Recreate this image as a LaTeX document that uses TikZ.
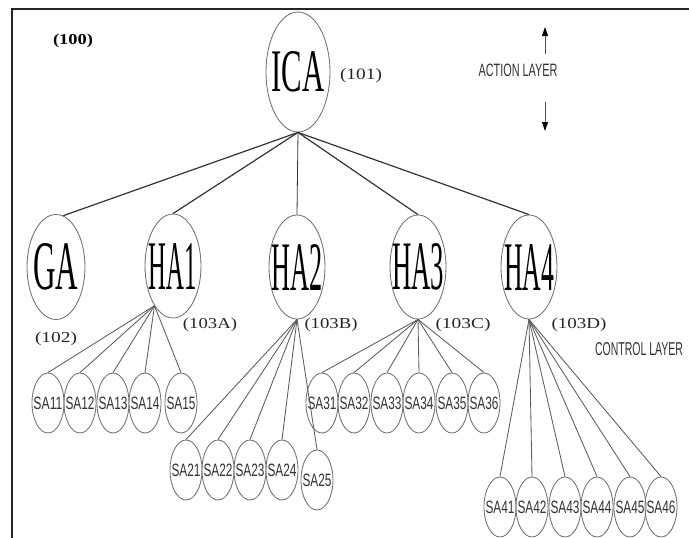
\documentclass[tikz,border=0pt]{standalone}
\usepackage{fontspec}
\setmainfont{Liberation Serif}
\setsansfont{Liberation Sans}
\usepackage{graphicx}
\usetikzlibrary{shapes.geometric,arrows.meta}
\newcommand{\fb}[3]{\makebox[0pt]{\resizebox{#1}{#2}{#3}}}
\newcommand{\sa}[1]{\fb{29pt}{12.5pt}{\sffamily #1}}
\definecolor{ellc}{HTML}{707070}
\definecolor{linec}{HTML}{333333}
\definecolor{satxt}{HTML}{333333}
\tikzset{
  ell/.style={ellipse, draw=ellc, line width=0.85pt, inner sep=0pt},
  topell/.style={ell, minimum width=64pt, minimum height=120pt},
  haell/.style={ell, minimum width=56pt, minimum height=104pt},
  saell/.style={ell, minimum width=32pt, minimum height=60pt, text=satxt},
  tag/.style={anchor=base, inner sep=0pt, text=black!85},
  sftag/.style={anchor=base, inner sep=0pt, text=satxt, font=\sffamily},
  main/.style={draw=linec, line width=1.2pt},
  sub/.style={draw=linec!80, line width=0.85pt},
  layerarrow/.style={draw=black!70, line width=0.9pt, -{Triangle[length=9pt,width=6pt,fill=black,color=black]}},
}
\begin{document}
\begin{tikzpicture}[x=1pt,y=-1pt]
\useasboundingbox (0,0) rectangle (689,538);
% frame
\coordinate (fbl) at (12,538);
\coordinate (ftl) at (12,9);
\coordinate (ftr) at (689,9);
\draw[line width=1.2pt, black!85] (fbl) -- (ftl) -- (ftr);

% top node
\node[topell] (ICA) at (298,72) {\fb{53pt}{40pt}{ICA}};
% second level
\node[haell, minimum width=58pt, minimum height=105pt] (GA) at (56,267) {\fb{45pt}{46pt}{GA}};
\node[haell] (HA1) at (173,266) {\fb{48pt}{46pt}{HA1}};
\node[haell] (HA2) at (297,267) {\fb{51pt}{46pt}{HA2}};
\node[haell] (HA3) at (418,267) {\fb{52pt}{46pt}{HA3}};
\node[haell] (HA4) at (529,267) {\fb{50pt}{46pt}{HA4}};

% SA1x
\node[saell] (SA11) at (48,403) {\sa{SA11}};
\node[saell] (SA12) at (80,403) {\sa{SA12}};
\node[saell] (SA13) at (113,403) {\sa{SA13}};
\node[saell] (SA14) at (145,403) {\sa{SA14}};
\node[saell] (SA15) at (181,403) {\sa{SA15}};
% SA2x
\node[saell] (SA21) at (186,470) {\sa{SA21}};
\node[saell] (SA22) at (218,470) {\sa{SA22}};
\node[saell] (SA23) at (250,470) {\sa{SA23}};
\node[saell] (SA24) at (282,470) {\sa{SA24}};
\node[saell] (SA25) at (317,480) {\sa{SA25}};
% SA3x
\node[saell] (SA31) at (322,403) {\sa{SA31}};
\node[saell] (SA32) at (354,403) {\sa{SA32}};
\node[saell] (SA33) at (387,403) {\sa{SA33}};
\node[saell] (SA34) at (419,403) {\sa{SA34}};
\node[saell] (SA35) at (452,403) {\sa{SA35}};
\node[saell] (SA36) at (484,403) {\sa{SA36}};
% SA4x
\node[saell] (SA41) at (500,507) {\sa{SA41}};
\node[saell] (SA42) at (532,507) {\sa{SA42}};
\node[saell] (SA43) at (565,507) {\sa{SA43}};
\node[saell] (SA44) at (597,507) {\sa{SA44}};
\node[saell] (SA45) at (630,507) {\sa{SA45}};
\node[saell] (SA46) at (661,507) {\sa{SA46}};

% connectors top
\draw[main] (ICA.south) -- (GA.82);
\draw[main] (ICA.south) -- (HA1.north);
\draw[main, line width=0.8pt] (ICA.south) -- (HA2.north);
\draw[main] (ICA.south) -- (HA3.north);
\draw[main] (ICA.south) -- (HA4.north);

% connectors to sub agents
\foreach \s in {SA11,SA12,SA13,SA14,SA15}
  \draw[sub] (HA1.245) -- (\s.north);
\foreach \s in {SA21,SA22,SA23,SA24,SA25}
  \draw[sub] (HA2.south) -- (\s.north);
\foreach \s in {SA31,SA32,SA33,SA34,SA35,SA36}
  \draw[sub] (HA3.south) -- (\s.north);
\foreach \s in {SA41,SA42,SA43,SA44,SA45,SA46}
  \draw[sub] (HA4.south) -- (\s.north);

% labels
\node[tag, text=black] (l100) at (73,44) {\resizebox{40pt}{10.5pt}{\bfseries (100)}};
\node[tag] (l101) at (361,79) {\resizebox{42pt}{11pt}{(101)}};
\node[tag] (l102) at (56,342) {\resizebox{42pt}{10.5pt}{(102)}};
\node[tag] (l103A) at (210,328) {\resizebox{54pt}{10.5pt}{(103A)}};
\node[tag] (l103B) at (331,328) {\resizebox{53pt}{10.5pt}{(103B)}};
\node[tag] (l103C) at (463,328) {\resizebox{55pt}{10.5pt}{(103C)}};
\node[tag] (l103D) at (579,328) {\resizebox{55pt}{10.5pt}{(103D)}};

\node[sftag] (act) at (518,76) {\resizebox{79pt}{12.5pt}{ACTION LAYER}};
\node[sftag] (ctl) at (639,355) {\resizebox{88pt}{13pt}{CONTROL LAYER}};

% action layer arrows
\coordinate (up0) at (545,54);
\coordinate (up1) at (545,27);
\coordinate (dn0) at (545,102);
\coordinate (dn1) at (545,131);
\draw[layerarrow] (up0) -- (up1);
\draw[layerarrow] (dn0) -- (dn1);
\end{tikzpicture}
\end{document}
